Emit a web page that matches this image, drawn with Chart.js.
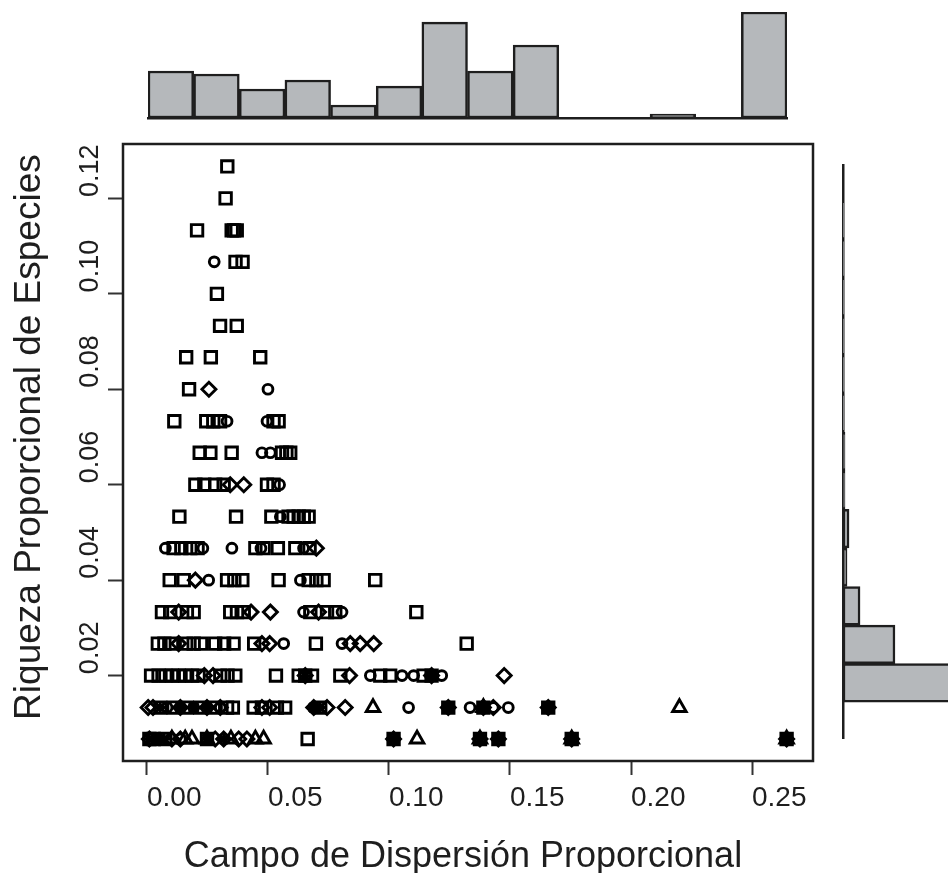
<!DOCTYPE html>
<html><head><meta charset="utf-8">
<script src="https://cdn.jsdelivr.net/npm/chart.js@4.4.1/dist/chart.umd.min.js"></script>
<style>
html,body{margin:0;padding:0;background:#fff;width:948px;height:873px;overflow:hidden;position:relative;}
canvas{position:absolute;}
#main{left:0;top:0;width:830px;height:873px;}
#top{left:140px;top:0;width:660px;height:125px;}
#right{left:835px;top:150px;width:113px;height:600px;}
</style></head><body>
<canvas id="main" width="830" height="873"></canvas>
<canvas id="top" width="660" height="125"></canvas>
<canvas id="right" width="113" height="600"></canvas>
<script>
// ---------- data ----------
const xTicks = [0.00, 0.05, 0.10, 0.15, 0.20, 0.25];
const yTicks = [0.02, 0.04, 0.06, 0.08, 0.10, 0.12];

const squares = [
 [0.0332,0.1267],
 [0.0325,0.12],
 [0.0207,0.1133],[0.035,0.1133],[0.036,0.1133],[0.0371,0.1133],
 [0.0366,0.1067],[0.0395,0.1067],
 [0.0289,0.1],
 [0.0302,0.0933],[0.0371,0.0933],
 [0.0162,0.0867],[0.0264,0.0867],[0.0468,0.0867],
 [0.0174,0.08],
 [0.0113,0.0733],[0.0245,0.0733],[0.0274,0.0733],[0.0302,0.0733],[0.0523,0.0733],[0.0544,0.0733],
 [0.0218,0.0667],[0.0262,0.0667],[0.035,0.0667],[0.0558,0.0667],[0.0576,0.0667],[0.0592,0.0667],
 [0.02,0.06],[0.0237,0.06],[0.0282,0.06],[0.0317,0.06],[0.0496,0.06],[0.0523,0.06],
 [0.0134,0.0533],[0.0368,0.0533],[0.0514,0.0533],[0.0585,0.0533],[0.0606,0.0533],[0.0627,0.0533],[0.0648,0.0533],[0.0668,0.0533],
 [0.011,0.0467],[0.0142,0.0467],[0.0179,0.0467],[0.0209,0.0467],[0.0448,0.0467],[0.0482,0.0467],[0.0541,0.0467],[0.0613,0.0467],[0.0672,0.0467],
 [0.0094,0.04],[0.0152,0.04],[0.0331,0.04],[0.0361,0.04],[0.0394,0.04],[0.0544,0.04],[0.0668,0.04],[0.07,0.04],[0.073,0.04],[0.0943,0.04],
 [0.0062,0.0333],[0.0096,0.0333],[0.0165,0.0333],[0.0193,0.0333],[0.0344,0.0333],[0.0372,0.0333],[0.04,0.0333],[0.0675,0.0333],[0.0744,0.0333],[0.0778,0.0333],[0.1113,0.0333],
 [0.0045,0.0267],[0.0072,0.0267],[0.0103,0.0267],[0.0162,0.0267],[0.0193,0.0267],[0.0223,0.0267],[0.0282,0.0267],[0.0319,0.0267],[0.0358,0.0267],[0.0443,0.0267],[0.0698,0.0267],[0.1321,0.0267],
 [0.0017,0.02],[0.0048,0.02],[0.0076,0.02],[0.0103,0.02],[0.0131,0.02],[0.0158,0.02],[0.0186,0.02],[0.0213,0.02],[0.0303,0.02],[0.0333,0.02],[0.0365,0.02],[0.0533,0.02],[0.0627,0.02],[0.0654,0.02],[0.0682,0.02],[0.0799,0.02],[0.0964,0.02],[0.1005,0.02],[0.1143,0.02],[0.1176,0.02],
 [0.0055,0.0133],[0.011,0.0133],[0.0165,0.0133],[0.022,0.0133],[0.0276,0.0133],[0.0331,0.0133],[0.0355,0.0133],[0.0441,0.0133],[0.0475,0.0133],[0.0537,0.0133],[0.0571,0.0133],[0.0716,0.0133],[0.1245,0.0133],[0.139,0.0133],[0.1658,0.0133],
 [0.001,0.0067],[0.0028,0.0067],[0.0076,0.0067],[0.0248,0.0067],[0.0664,0.0067],[0.1019,0.0067],[0.1376,0.0067],[0.1452,0.0067],[0.1755,0.0067],[0.2643,0.0067]
];

const circles = [
 [0.0278,0.1067],
 [0.05,0.08],
 [0.0331,0.0733],[0.0496,0.0733],
 [0.0475,0.0667],[0.051,0.0667],
 [0.0548,0.06],
 [0.0551,0.0533],
 [0.0076,0.0467],[0.0231,0.0467],[0.0351,0.0467],[0.0471,0.0467],[0.0647,0.0467],
 [0.0255,0.04],[0.0634,0.04],
 [0.0647,0.0333],[0.0806,0.0333],
 [0.0565,0.0267],[0.0806,0.0267],
 [0.0923,0.02],[0.1054,0.02],[0.1102,0.02],[0.1176,0.02],[0.1218,0.02],
 [0.0083,0.0133],[0.0193,0.0133],[0.0303,0.0133],[0.0689,0.0133],[0.1081,0.0133],[0.1245,0.0133],[0.1335,0.0133],[0.1431,0.0133],[0.1493,0.0133],[0.1658,0.0133],
 [0.0048,0.0067],[0.0138,0.0067],[0.1019,0.0067],[0.1452,0.0067],[0.1755,0.0067],[0.2643,0.0067]
];

const diamonds = [
 [0.0256,0.08],
 [0.0344,0.06],[0.04,0.06],
 [0.07,0.0467],
 [0.02,0.04],
 [0.0131,0.0333],[0.043,0.0333],[0.051,0.0333],[0.0709,0.0333],
 [0.0131,0.0267],[0.0475,0.0267],[0.0507,0.0267],[0.084,0.0267],[0.0881,0.0267],[0.0937,0.0267],
 [0.0237,0.02],[0.0273,0.02],[0.0654,0.02],[0.0837,0.02],[0.1176,0.02],[0.1476,0.02],
 [0.0005,0.0133],[0.0025,0.0133],[0.0138,0.0133],[0.0248,0.0133],[0.0303,0.0133],[0.0475,0.0133],[0.0507,0.0133],[0.0689,0.0133],[0.0744,0.0133],[0.0819,0.0133],[0.1245,0.0133],[0.139,0.0133],[0.1431,0.0133],[0.1658,0.0133],
 [0.001,0.0067],[0.0103,0.0067],[0.0138,0.0067],[0.0282,0.0067],[0.0317,0.0067],[0.0379,0.0067],[0.0413,0.0067],[0.1019,0.0067],[0.1376,0.0067],[0.1452,0.0067],[0.1755,0.0067],[0.2643,0.0067]
];

const triangles = [
 [0.0934,0.0133],[0.139,0.0133],[0.22,0.0133],
 [0.0103,0.0067],[0.0158,0.0067],[0.0186,0.0067],[0.0248,0.0067],[0.0347,0.0067],[0.0448,0.0067],[0.0482,0.0067],[0.1116,0.0067],[0.1376,0.0067],[0.1755,0.0067],[0.2643,0.0067]
];

const asterisks = [
 [0.2643,0.0067],[0.1755,0.0067],[0.1452,0.0067],[0.1376,0.0067],[0.1019,0.0067],
 [0.001,0.0067],[0.004,0.0067],[0.007,0.0067],[0.0248,0.0067],[0.0317,0.0067],
 [0.1658,0.0133],[0.1245,0.0133],[0.139,0.0133],[0.0689,0.0133],[0.0716,0.0133],
 [0.0055,0.0133],[0.0138,0.0133],[0.0193,0.0133],[0.0248,0.0133],
 [0.0654,0.02],[0.1176,0.02]
];

// marginal histograms
const topHistBins = ['0.00','0.02','0.04','0.06','0.08','0.10','0.12','0.14','0.16','0.18','0.20','0.22','0.24','0.26'];
const topHistValues = [4.44, 4.16, 2.74, 3.59, 1.23, 3.02, 9.07, 4.44, 6.90, 0, 0, 0.38, 0, 10.02];
const rightHistMids = [0.005,0.015,0.025,0.035,0.045,0.055,0.065,0.075,0.085,0.095,0.105,0.115,0.125];
const rightHistValues = [14, 4.91, 1.61, 0.38, 0.57, 0.19, 0.19, 0.09, 0.06, 0.06, 0.06, 0.06, 0.06];

// ---------- drawing ----------
const FONT = "'Liberation Sans', Arial, sans-serif";
const INK = '#1e1e1e';
const toPts = a => a.map(([x, y]) => ({x, y}));
const marker = (label, data, style, r) => ({
  label, data: toPts(data), pointStyle: style, pointRadius: r, pointHoverRadius: r,
  pointBorderColor: '#000', pointBackgroundColor: 'rgba(0,0,0,0)', pointBorderWidth: 2.9,
  showLine: false
});

const frame = {
  id: 'frame',
  afterDraw(chart) {
    const {ctx, chartArea: a} = chart;
    ctx.save();
    ctx.strokeStyle = INK; ctx.lineWidth = 2.5;
    ctx.strokeRect(a.left, a.top, a.right - a.left, a.bottom - a.top);
    ctx.restore();
  }
};

new Chart(document.getElementById('main'), {
  type: 'scatter',
  data: { datasets: [
    marker('cuadrado', squares, 'rect', 8.1),
    marker('círculo', circles, 'circle', 4.9),
    marker('rombo', diamonds, 'rectRot', 7),
    marker('triángulo', triangles, 'triangle', 7.8),
    marker('asterisco', asterisks, 'star', 6.5)
  ]},
  options: {
    responsive: false, animation: false, events: [],
    layout: {padding: {left: 0, top: 144, right: 17, bottom: 0}},
    plugins: {legend: {display: false}, tooltip: {enabled: false}},
    scales: {
      x: {
        type: 'linear', min: -0.0099, max: 0.2752,
        afterBuildTicks: s => { s.ticks = xTicks.map(v => ({value: v})); },
        afterFit: s => { s.height = 112; },
        grid: {drawOnChartArea: false, drawTicks: true, tickLength: 14, tickWidth: 2, tickColor: '#333'},
        border: {display: false},
        ticks: {align: 'start', padding: 6, autoSkip: false, maxRotation: 0, color: INK,
                font: {family: FONT, size: 28}, callback: v => Number(v).toFixed(2)},
        title: {display: true, text: 'Campo de Dispersión Proporcional ', color: INK,
                font: {family: FONT, size: 36}, padding: {top: 0, bottom: -6}}
      },
      y: {
        type: 'linear', min: 0.0021, max: 0.1314,
        afterBuildTicks: s => { s.ticks = yTicks.map(v => ({value: v})); },
        afterFit: s => { s.width = 123; },
        grid: {drawOnChartArea: false, drawTicks: true, tickLength: 15, tickWidth: 2, tickColor: '#333'},
        border: {display: false},
        ticks: {minRotation: 90, maxRotation: 90, crossAlign: 'near', align: 'end', labelOffset: -54,
                padding: 4, autoSkip: false, color: INK, font: {family: FONT, size: 27},
                callback: v => Number(v).toFixed(2)},
        title: {display: true, text: '   Riqueza Proporcional de Especies', color: INK,
                font: {family: FONT, size: 37}, padding: {top: 8, bottom: 0}}
      }
    }
  },
  plugins: [frame]
});

const histFill = '#b5b8bb';
new Chart(document.getElementById('top'), {
  type: 'bar',
  data: {labels: topHistBins, datasets: [{data: topHistValues, backgroundColor: histFill, borderColor: INK,
    borderWidth: 2.5, borderSkipped: false, barPercentage: 1, categoryPercentage: 1}]},
  options: {
    responsive: false, animation: false, events: [],
    layout: {padding: {left: 8, right: 13, top: 12, bottom: 7}},
    plugins: {legend: {display: false}, tooltip: {enabled: false}},
    scales: {
      x: {display: true, grid: {display: false, drawTicks: false}, ticks: {display: false},
          border: {display: true, color: INK, width: 2.5}, afterFit: s => { s.height = 0; }},
      y: {display: false, min: 0, max: 10.02}
    }
  }
});

new Chart(document.getElementById('right'), {
  type: 'bar',
  data: {datasets: [{data: rightHistMids.map((y, i) => ({x: rightHistValues[i], y})),
    backgroundColor: histFill, borderColor: INK, borderWidth: 2.5, borderSkipped: false,
    barPercentage: 1, categoryPercentage: 1}]},
  options: {
    indexAxis: 'y', responsive: false, animation: false, events: [],
    layout: {padding: {left: 8, right: 0, top: 15, bottom: 12}},
    plugins: {legend: {display: false}, tooltip: {enabled: false}},
    scales: {
      y: {type: 'linear', min: 0, max: 0.13, display: true, position: 'left',
          grid: {display: false, drawTicks: false}, ticks: {display: false},
          border: {display: true, color: INK, width: 2.5}, afterFit: s => { s.width = 0; }},
      x: {type: 'linear', min: 0, max: 9.92, display: false}
    }
  }
});
</script>
</body></html>
